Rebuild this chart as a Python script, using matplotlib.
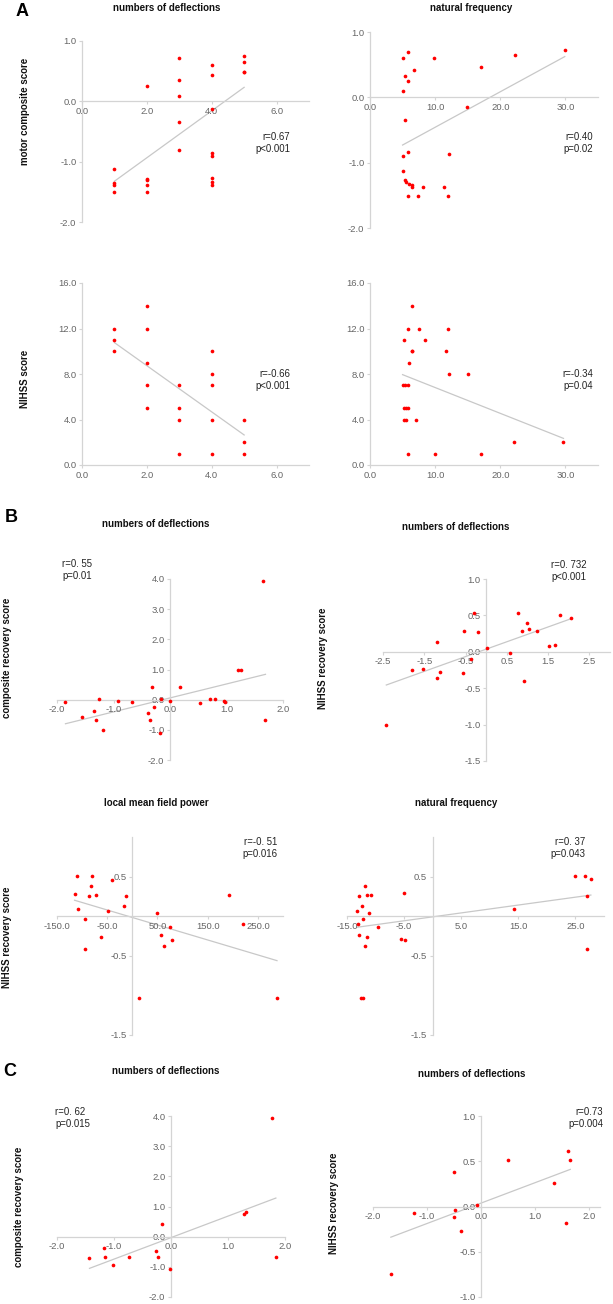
import matplotlib
matplotlib.use('Agg')
import matplotlib.pyplot as plt
import numpy as np
from matplotlib.ticker import FormatStrFormatter, FixedLocator

plt.rcParams['font.family'] = ['Liberation Sans', 'DejaVu Sans']

W, H = 613, 1304
AXIS_GREY = '#d4d4d4'
TICK_GREY = '#666666'
LINE_GREY = '#c8c8c8'
RED = '#ff0000'

# ---- panel A: numbers of deflections / natural frequency vs scores ----
a1_defl = [1, 1, 1, 1, 2, 2, 2, 2, 2, 3, 3, 3, 3, 3, 4, 4, 4, 4, 4, 4, 4, 4, 5, 5, 5, 5]
a1_motor = [-1.12, -1.35, -1.38, -1.51, 0.26, -1.28, -1.31, -1.38, -1.51,
            0.71, 0.35, 0.09, -0.34, -0.81, 0.60, 0.43, -0.13, -0.85, -0.90,
            -1.27, -1.33, -1.38, 0.75, 0.66, 0.49, 0.48]

a2_freq = [5.0, 5.8, 5.3, 5.8, 6.8, 5.0, 9.9, 17.0, 22.2, 29.9, 14.9, 5.3, 5.9,
           5.0, 12.1, 5.0, 5.3, 5.5, 6.0, 6.4, 6.4, 8.2, 11.4, 5.8, 7.3, 11.9]
a2_motor = [0.60, 0.70, 0.33, 0.25, 0.42, 0.09, 0.60, 0.47, 0.65, 0.73, -0.15,
            -0.34, -0.83, -0.90, -0.87, -1.12, -1.27, -1.30, -1.32, -1.34,
            -1.38, -1.38, -1.38, -1.51, -1.51, -1.51]

a3_defl = [1, 1, 1, 2, 2, 2, 2, 2, 3, 3, 3, 3, 4, 4, 4, 4, 4, 5, 5, 5]
a3_nihss = [12, 11, 10, 14, 12, 9, 7, 5, 7, 5, 4, 1, 10, 8, 7, 4, 1, 4, 2, 1]

a4_freq = [6.4, 5.9, 7.5, 12.0, 5.2, 8.4, 6.4, 6.5, 11.6, 6.0, 12.2, 15.0, 5.0,
           5.3, 5.8, 5.2, 5.5, 5.9, 5.2, 5.5, 7.0, 5.9, 10.0, 17.0, 22.1, 29.7]
a4_nihss = [14, 12, 12, 12, 11, 11, 10, 10, 10, 9, 8, 8, 7, 7, 7, 5, 5, 5,
            4, 4, 4, 1, 1, 1, 2, 2]

# ---- panel B: recovery scores ----
b1_defl = [-1.85, -1.26, -0.92, -0.68, -0.32, -0.16, 0.0, 0.17, 0.53, 0.71, 0.79,
           0.95, 0.98, 1.21, 1.25, -1.55, -1.34, -1.31, -1.18, -0.39, -0.36,
           -0.28, -0.18, 1.69, 1.65]
b1_comp = [-0.08, 0.01, -0.06, -0.08, 0.43, 0.01, -0.06, 0.43, -0.10, 0.03, 0.01,
           -0.03, -0.08, 0.97, 1.00, -0.59, -0.37, -0.68, -0.99, -0.43, -0.66,
           -0.23, -1.11, -0.68, 3.93]

b2_defl = [0.77, -0.30, 1.80, 2.05, 1.00, 0.87, 1.04, 1.22, -0.53, -0.19, -1.19,
           0.03, 0.58, 1.53, 1.66, -0.36, -1.79, -1.53, -1.12, -1.19, -0.55,
           0.92, -2.42]
b2_nihss = [0.53, 0.53, 0.51, 0.47, 0.40, 0.29, 0.31, 0.29, 0.28, 0.27, 0.13,
            0.05, -0.02, 0.08, 0.10, -0.10, -0.25, -0.23, -0.28, -0.36, -0.29,
            -0.40, -1.01]

b3_lmfp = [-110, -81, -40, -115, -109, -95, -86, -82, -72, -62, -95, -49, -17,
           -12, 14, 49, 57, 64, 75, 79, 193, 221, 288]
b3_nihss = [0.51, 0.51, 0.46, 0.28, 0.09, -0.04, 0.25, 0.38, 0.27, -0.26, -0.41,
            0.07, 0.13, 0.26, -1.03, 0.04, -0.24, -0.37, -0.14, -0.30, 0.27,
            -0.10, -1.03]

b4_freq = [24.9, 26.7, 27.7, -11.9, -12.9, -11.5, -10.8, -5.1, -12.4, -13.2,
           -11.2, -12.2, -13.0, -9.6, -12.9, -11.5, -11.8, -5.6, -4.9, -12.5,
           -12.2, 14.2, 27.0, 27.0]
b4_nihss = [0.51, 0.51, 0.47, 0.38, 0.26, 0.27, 0.27, 0.29, 0.13, 0.07, 0.04,
            -0.04, -0.10, -0.14, -0.24, -0.26, -0.37, -0.29, -0.30, -1.03, -1.03,
            0.09, 0.25, -0.41]

# ---- panel C ----
c1_defl = [-1.43, -1.18, -1.16, -1.01, -0.74, -0.26, -0.22, -0.16, -0.02, 1.28,
           1.32, 1.78, 1.84]
c1_comp = [-0.71, -0.38, -0.69, -0.93, -0.69, -0.46, -0.69, 0.42, -1.06, 0.75,
           0.82, 3.93, -0.69]

c2_defl = [-1.67, -1.24, -0.51, -0.48, -0.51, -0.38, -0.08, 0.49, 1.35, 1.61,
           1.65, 1.57]
c2_nihss = [-0.75, -0.07, 0.38, -0.04, -0.12, -0.27, 0.02, 0.51, 0.26, 0.61,
            0.51, -0.18]

fig = plt.figure(figsize=(W / 100, H / 100), dpi=100)


def fx(x):
    return x / W


def fy(y):
    return 1 - y / H


def panel(box, x, y, xlim, ylim, xticks, yticks):
    l, t, r, b = box
    ax = fig.add_axes([fx(l), fy(b), (r - l) / W, (b - t) / H])
    ax.patch.set_alpha(0)
    ax.set_xlim(xlim)
    ax.set_ylim(ylim)
    for s in ['top', 'right']:
        ax.spines[s].set_visible(False)
    for s in ['left', 'bottom']:
        ax.spines[s].set_position(('data', 0))
        ax.spines[s].set_color(AXIS_GREY)
        ax.spines[s].set_linewidth(0.9)
    ax.xaxis.set_major_locator(FixedLocator(xticks))
    ax.yaxis.set_major_locator(FixedLocator(yticks))
    ax.xaxis.set_major_formatter(FormatStrFormatter('%.1f'))
    ax.yaxis.set_major_formatter(FormatStrFormatter('%.1f'))
    ax.tick_params(direction='out', length=2.5, width=0.8, color=AXIS_GREY,
                   labelcolor=TICK_GREY, labelsize=6.8, pad=1.5)
    x = np.array(x, dtype=float)
    y = np.array(y, dtype=float)
    m, c = np.polyfit(x, y, 1)
    xs = np.array([x.min(), x.max()])
    ax.plot(xs, m * xs + c, color=LINE_GREY, lw=0.9, zorder=1)
    ax.scatter(x, y, s=7, color=RED, linewidths=0, zorder=3, clip_on=False)
    return ax


def stat(x, y, txt, ha):
    fig.text(fx(x), fy(y), txt, ha=ha, va='center', ma=ha, fontsize=6.9,
             color='#222222', linespacing=1.25)


def title(x, y, txt):
    fig.text(fx(x), fy(y), txt, ha='center', va='center', fontsize=7,
             fontweight='bold', color='#111111')


def ylab(x, y, txt):
    fig.text(fx(x), fy(y), txt, ha='center', va='center', rotation=90,
             fontsize=7, fontweight='bold', color='#111111')


def letter(x, y, txt):
    fig.text(fx(x), fy(y), txt, ha='left', va='center', fontsize=13,
             fontweight='bold')


# A
panel((82, 41, 309, 222), a1_defl, a1_motor, (0, 7), (-2, 1),
      [0, 2, 4, 6], [-2, -1, 0, 1])
panel((370, 32, 598, 228), a2_freq, a2_motor, (0, 35), (-2, 1),
      [0, 10, 20, 30], [-2, -1, 0, 1])
panel((82, 283, 309, 465), a3_defl, a3_nihss, (0, 7), (0, 16),
      [0, 2, 4, 6], [0, 4, 8, 12, 16])
panel((370, 283, 598, 465), a4_freq, a4_nihss, (0, 35), (0, 16),
      [0, 10, 20, 30], [0, 4, 8, 12, 16])

letter(16, 11, 'A')
title(167, 8, 'numbers of deflections')
title(471, 8, 'natural frequency')
ylab(25, 111, 'motor composite score')
ylab(25, 379, 'NIHSS score')
stat(290, 143, 'r=0.67\np<0.001', 'right')
stat(593, 143, 'r=0.40\np=0.02', 'right')
stat(290, 380, 'r=-0.66\np<0.001', 'right')
stat(593, 380, 'r=-0.34\np=0.04', 'right')

# B
panel((57, 579, 283, 760), b1_defl, b1_comp, (-2, 2), (-2, 4),
      [-2, -1, 0, 1, 2], [-2, -1, 0, 1, 2, 3, 4])
panel((383, 579, 610, 761), b2_defl, b2_nihss, (-2.5, 3.0), (-1.5, 1.0),
      [-2.5, -1.5, -0.5, 0.5, 1.5, 2.5], [-1.5, -1.0, -0.5, 0.0, 0.5, 1.0])
panel((57, 837, 283, 1035), b3_lmfp, b3_nihss, (-150, 300), (-1.5, 1.0),
      [-150, -50, 50, 150, 250], [-1.5, -0.5, 0.5])
panel((347, 837, 604, 1035), b4_freq, b4_nihss, (-15, 30), (-1.5, 1.0),
      [-15, -5, 5, 15, 25], [-1.5, -0.5, 0.5])

letter(5, 518, 'B')
title(156, 524, 'numbers of deflections')
title(456, 527, 'numbers of deflections')
title(156, 803, 'local mean field power')
title(456, 803, 'natural frequency')
ylab(7, 658, 'composite recovery score')
ylab(323, 658, 'NIHSS recovery score')
ylab(7, 937, 'NIHSS recovery score')
stat(62, 570, 'r=0. 55\np=0.01', 'left')
stat(551, 571, 'r=0. 732\np<0.001', 'left')
stat(277, 848, 'r=-0. 51\np=0.016', 'right')
stat(585, 848, 'r=0. 37\np=0.043', 'right')

# C
panel((57, 1116, 285, 1297), c1_defl, c1_comp, (-2, 2), (-2, 4),
      [-2, -1, 0, 1, 2], [-2, -1, 0, 1, 2, 3, 4])
panel((373, 1116, 600, 1297), c2_defl, c2_nihss, (-2, 2.2), (-1, 1),
      [-2, -1, 0, 1, 2], [-1, -0.5, 0, 0.5, 1])

letter(3, 1072, 'C')
title(166, 1071, 'numbers of deflections')
title(472, 1074, 'numbers of deflections')
ylab(19, 1207, 'composite recovery score')
ylab(334, 1203, 'NIHSS recovery score')
stat(55, 1118, 'r=0. 62\np=0.015', 'left')
stat(603, 1118, 'r=0.73\np=0.004', 'right')

fig.savefig('out.png', dpi=100)
